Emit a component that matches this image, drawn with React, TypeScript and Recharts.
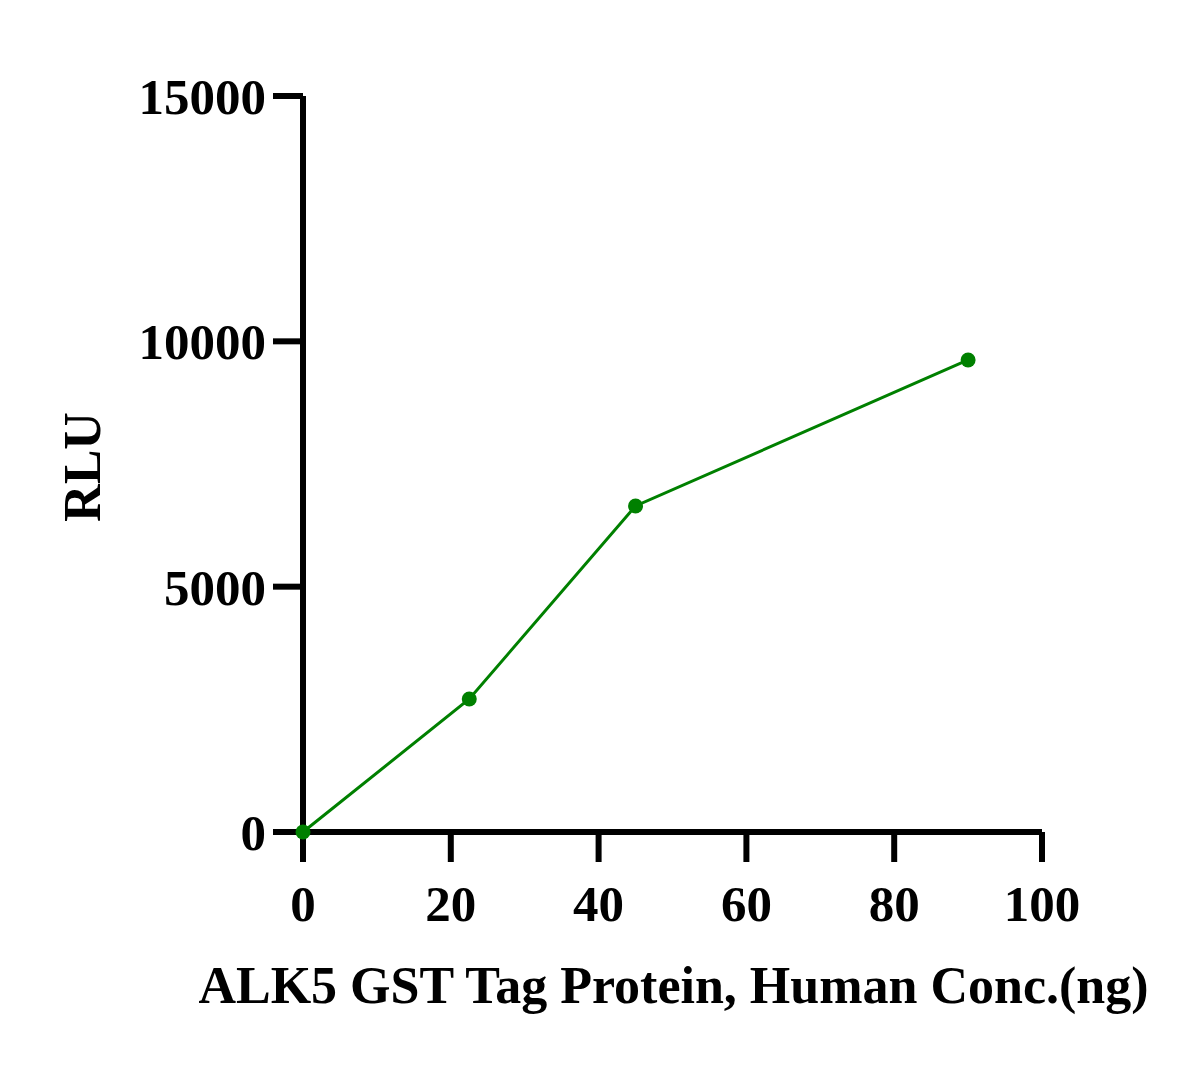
import React from 'react';
import { LineChart, Line, XAxis, YAxis } from 'recharts';

const concentrations = [0, 22.5, 45, 90];
const rluValues = [0, 2710, 6645, 9620];
const xTicks = [0, 20, 40, 60, 80, 100];
const yTicks = [0, 5000, 10000, 15000];

const data = concentrations.map((c, i) => ({ conc: c, rlu: rluValues[i] }));

const FONT = '"Liberation Serif", "Times New Roman", serif';
const GREEN = '#008000';

const tickStyle = { fill: '#000', fontFamily: FONT, fontWeight: 700, fontSize: 51 };

const XTitle = (props: any) => {
  const vb = props.viewBox || {};
  const cx = vb.x + vb.width / 2 + 1;
  return (
    <text x={cx} y={vb.y + 171} textAnchor="middle" fill="#000" fontFamily={FONT} fontWeight={700} fontSize={52}>
      ALK5 GST Tag Protein, Human Conc.(ng)
    </text>
  );
};

const YTitle = (props: any) => {
  const vb = props.viewBox || {};
  const x = vb.x + 100;
  const y = vb.y + vb.height / 2 + 3;
  return (
    <text x={x} y={y} transform={`rotate(-90, ${x}, ${y})`} textAnchor="middle" fill="#000" fontFamily={FONT} fontWeight={700} fontSize={52}>
      RLU
    </text>
  );
};

export default function App() {
  return (
    <div style={{ position: 'absolute', left: 0, top: 0, width: 1200, height: 1067, background: '#fff' }}>
      <LineChart width={1200} height={1067} data={data} margin={{ top: 96, right: 158, bottom: 0, left: 0 }}>
        <XAxis
          dataKey="conc"
          type="number"
          domain={[0, 100]}
          ticks={xTicks}
          height={235}
          tickSize={30}
          tickMargin={23}
          axisLine={{ stroke: '#000', strokeWidth: 6 }}
          tickLine={{ stroke: '#000', strokeWidth: 6 }}
          tick={tickStyle}
          label={<XTitle />}
          interval={0}
        />
        <YAxis
          type="number"
          domain={[0, 15000]}
          ticks={yTicks}
          width={303}
          tickSize={30}
          tickMargin={7}
          axisLine={{ stroke: '#000', strokeWidth: 6 }}
          tickLine={{ stroke: '#000', strokeWidth: 6 }}
          tick={tickStyle}
          label={<YTitle />}
          interval={0}
        />
        <Line
          dataKey="rlu"
          type="linear"
          stroke={GREEN}
          strokeWidth={3}
          dot={{ r: 7.5, fill: GREEN, stroke: 'none' }}
          activeDot={false}
          isAnimationActive={false}
        />
      </LineChart>
    </div>
  );
}
